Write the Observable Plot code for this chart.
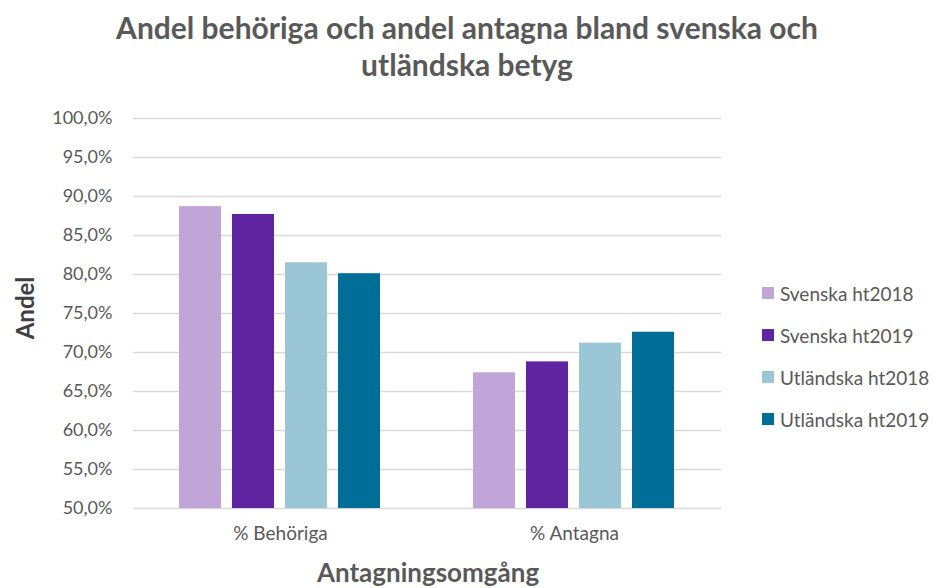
<!DOCTYPE html>
<html>
<head>
<meta charset="utf-8">
<script src="https://cdn.jsdelivr.net/npm/d3@7"></script>
<script src="https://cdn.jsdelivr.net/npm/@observablehq/plot@0.6"></script>
<style>
  html, body { margin: 0; padding: 0; background: #fff; }
  #wrap { position: relative; width: 934px; height: 588px; font-family: Lato, "Open Sans", sans-serif; color: #595959; }
  #title { height: 95px; box-sizing: border-box; padding-top: 9px; text-align: center; font-size: 30px; font-weight: bold; line-height: 37px; color: #595959; }
  #ylab { position: absolute; left: 24px; top: 308px; transform: translate(-50%, -50%) rotate(-90deg); font-size: 24px; font-weight: bold; color: #404040; white-space: nowrap; }
  #xlab { position: absolute; left: 428px; top: 572px; transform: translate(-50%, -50%); font-size: 26px; font-weight: bold; color: #595959; white-space: nowrap; }
  #legend { position: absolute; left: 762px; top: 272px; }
  .item { display: flex; align-items: center; height: 42px; font-size: 19px; color: #595959; }
  .sw { width: 12px; height: 12px; margin-right: 6px; }
  svg { display: block; }
  g[aria-label="fx-axis tick label"] text { font-size: 19px; }
</style>
</head>
<body>
<div id="wrap">
  <div id="title">Andel behöriga och andel antagna bland svenska och<br>utländska betyg</div>
  <div id="chart"></div>
  <div id="ylab">Andel</div>
  <div id="xlab">Antagningsomgång</div>
  <div id="legend"></div>
</div>
<script>
const groups = ["% Behöriga", "% Antagna"];
const series = ["Svenska ht2018", "Svenska ht2019", "Utländska ht2018", "Utländska ht2019"];
const behoriga = [88.7, 87.7, 81.5, 80.1];
const antagna = [67.4, 68.8, 71.2, 72.6];
const colors = ["#c0a6d8", "#5f249f", "#9bc6d6", "#006e96"];
const yTicks = [50, 55, 60, 65, 70, 75, 80, 85, 90, 95, 100];

const data = [];
series.forEach((s, i) => data.push({group: groups[0], series: s, value: behoriga[i]}));
series.forEach((s, i) => data.push({group: groups[1], series: s, value: antagna[i]}));

const fmt = d => d.toFixed(1).replace(".", ",") + "%";

const chart = Plot.plot({
  width: 934,
  height: 493,
  marginTop: 23,
  marginBottom: 80,
  marginLeft: 133,
  marginRight: 213,
  style: {fontFamily: "Lato, 'Open Sans', sans-serif", fontSize: "18px", color: "#595959", background: "#fff"},
  fx: {domain: groups, padding: 0, label: null, axis: "bottom", tickSize: 0, tickPadding: 18},
  x: {domain: series, axis: null, paddingInner: 0.2, paddingOuter: 0.86},
  y: {domain: [50, 100], ticks: yTicks, tickFormat: fmt, label: null, tickSize: 0, tickPadding: 21},
  color: {domain: series, range: colors},
  marks: [
    Plot.ruleY(yTicks, {stroke: "#d9d9d9", strokeWidth: 1.5}),
    Plot.barY(data, {fx: "group", x: "series", y1: 50, y2: "value", fill: "series"})
  ]
});
document.getElementById("chart").appendChild(chart);

const legend = document.getElementById("legend");
series.forEach((s, i) => {
  const item = document.createElement("div");
  item.className = "item";
  const sw = document.createElement("div");
  sw.className = "sw";
  sw.style.background = colors[i];
  const t = document.createElement("span");
  t.textContent = s;
  item.appendChild(sw);
  item.appendChild(t);
  legend.appendChild(item);
});
</script>
</body>
</html>
